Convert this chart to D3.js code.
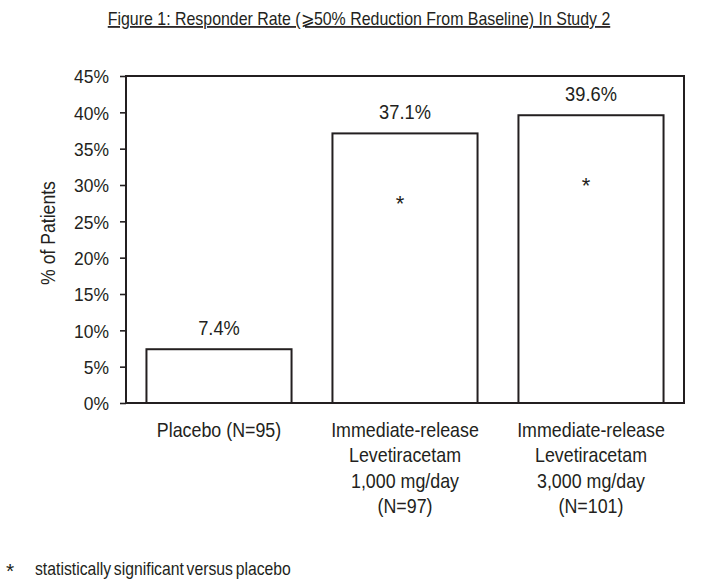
<!DOCTYPE html>
<html>
<head>
<meta charset="utf-8">
<script src="https://cdn.jsdelivr.net/npm/d3@7"></script>
<style>
  body { margin: 0; background: #fff; }
  text { font-family: "Liberation Sans", Arial, sans-serif; fill: #231f20; }
</style>
</head>
<body>
<div class="chart"></div>
<script>
var svgWidth = 706;
var svgHeight = 584;

var margin = { top: 76, right: 22, bottom: 181, left: 126 };
var width = svgWidth - margin.left - margin.right;
var height = svgHeight - margin.top - margin.bottom;

// chart data
var groups = ["placebo", "lev1000", "lev3000"];
var groupLabels = [
  ["Placebo (N=95)"],
  ["Immediate-release", "Levetiracetam", "1,000 mg/day", "(N=97)"],
  ["Immediate-release", "Levetiracetam", "3,000 mg/day", "(N=101)"]
];
var responderRate = [7.4, 37.1, 39.6];
var significant = [false, true, true];
var yTicks = [0, 5, 10, 15, 20, 25, 30, 35, 40, 45];

var ink = "#231f20";

// no condensed face is installed, so squeeze text horizontally instead
function squeeze(sel, sx) {
  sel.each(function() {
    var t = d3.select(this);
    var x = +t.attr("x") || 0;
    var y = +t.attr("y") || 0;
    t.attr("x", 0).attr("y", 0)
      .attr("transform", `translate(${x},${y}) scale(${sx},1)`);
  });
}

var svg = d3.select(".chart")
  .append("svg")
  .attr("width", svgWidth)
  .attr("height", svgHeight);

// title
svg.append("text")
  .attr("x", 359)
  .attr("y", 25)
  .attr("text-anchor", "middle")
  .attr("font-size", "17.5px")
  .style("text-decoration", "underline")
  .text("Figure 1: Responder Rate (\u2A7E50% Reduction From Baseline) In Study 2")
  .call(squeeze, 0.91);

var chartGroup = svg.append("g")
  .attr("transform", `translate(${margin.left}, ${margin.top})`);

var xScale = d3.scaleBand()
  .domain(groups)
  .range([0, width])
  .paddingInner(0.22)
  .paddingOuter(0.11);

var yScale = d3.scaleLinear()
  .domain([0, 45])
  .range([height, 0]);

// frame
chartGroup.append("rect")
  .attr("x", 0)
  .attr("y", 0)
  .attr("width", width)
  .attr("height", height)
  .attr("fill", "none")
  .attr("stroke", ink)
  .attr("stroke-width", 2);

// y axis
var leftAxis = d3.axisLeft(yScale)
  .tickValues(yTicks)
  .tickSize(6)
  .tickPadding(11)
  .tickFormat(d => d + "%");

var yAxis = chartGroup.append("g").call(leftAxis);
yAxis.select(".domain").remove();
yAxis.selectAll(".tick line")
  .attr("stroke", ink)
  .attr("stroke-width", 1.6);
yAxis.selectAll(".tick text")
  .attr("font-size", "19px")
  .attr("dy", "0.36em")
  .call(squeeze, 0.92);

// bars
chartGroup.selectAll(".bar")
  .data(groups)
  .enter()
  .append("rect")
  .attr("class", "bar")
  .attr("x", d => xScale(d))
  .attr("y", (d, i) => yScale(responderRate[i]))
  .attr("width", xScale.bandwidth())
  .attr("height", (d, i) => height - yScale(responderRate[i]))
  .attr("fill", "#fff")
  .attr("stroke", ink)
  .attr("stroke-width", 2);

// value labels
chartGroup.selectAll(".value")
  .data(groups)
  .enter()
  .append("text")
  .attr("class", "value")
  .attr("x", d => xScale(d) + xScale.bandwidth() / 2)
  .attr("y", (d, i) => yScale(responderRate[i]) - 14)
  .attr("text-anchor", "middle")
  .attr("font-size", "21px")
  .text((d, i) => responderRate[i].toFixed(1) + "%")
  .call(squeeze, 0.87);

// significance marks
chartGroup.selectAll(".sig")
  .data(groups.filter((d, i) => significant[i]))
  .enter()
  .append("text")
  .attr("class", "sig")
  .attr("x", d => xScale(d) + xScale.bandwidth() / 2 - 5)
  .attr("y", d => yScale(responderRate[groups.indexOf(d)]) + 78)
  .attr("text-anchor", "middle")
  .attr("font-size", "22px")
  .text("*");

// category labels
var xLabels = chartGroup.selectAll(".xlabel")
  .data(groups)
  .enter()
  .append("text")
  .attr("class", "xlabel")
  .attr("text-anchor", "middle")
  .attr("font-size", "21px")
  .attr("transform", d => `translate(${xScale(d) + xScale.bandwidth() / 2}, ${height + 34}) scale(0.85,1)`);

xLabels.selectAll("tspan")
  .data((d, i) => groupLabels[i])
  .enter()
  .append("tspan")
  .attr("x", 0)
  .attr("dy", (d, i) => i === 0 ? 0 : 25.5)
  .text(d => d);

// y axis title
svg.append("text")
  .attr("transform", "translate(55, 233) rotate(-90) scale(0.84,1)")
  .attr("text-anchor", "middle")
  .attr("font-size", "21px")
  .text("% of Patients");

// footnote
svg.append("text")
  .attr("x", 10)
  .attr("y", 578)
  .attr("text-anchor", "middle")
  .attr("font-size", "21px")
  .text("*");

svg.append("text")
  .attr("x", 35)
  .attr("y", 575)
  .attr("font-size", "19px")
  .attr("word-spacing", "-2px")
  .text("statistically significant versus placebo")
  .call(squeeze, 0.83);
</script>
</body>
</html>
